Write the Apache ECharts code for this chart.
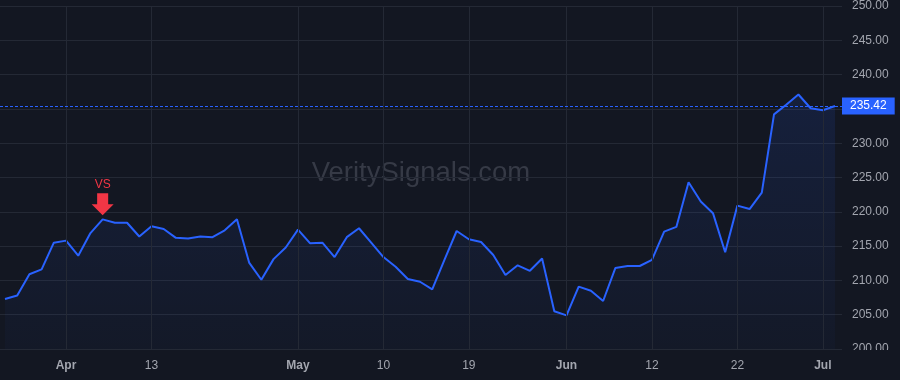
<!DOCTYPE html>
<html>
<head>
<meta charset="utf-8">
<script src="https://cdn.jsdelivr.net/npm/echarts@6/dist/echarts.min.js"></script>
<style>
  html, body { margin: 0; padding: 0; background: #131722; }
  #chart { width: 900px; height: 380px; }
</style>
</head>
<body>
<div id="chart"></div>
<script>
// closing prices, one per trading day (Mar -> Jul)
var prices = [
  207.3, 207.8, 210.9, 211.6, 215.5, 215.8, 213.6, 216.9, 218.9, 218.4,
  218.4, 216.4, 217.9, 217.5, 216.2, 216.1, 216.4, 216.3, 217.3, 218.9,
  212.6, 210.1, 213.1, 214.8, 217.4, 215.4, 215.5, 213.4, 216.3, 217.6,
  215.5, 213.4, 212.0, 210.2, 209.8, 208.7, 213.0, 217.2, 216.0, 215.6,
  213.7, 210.8, 212.2, 211.4, 213.2, 205.5, 204.9, 209.1, 208.5, 207.0,
  211.8, 212.1, 212.1, 213.0, 217.1, 217.8, 224.3, 221.5, 219.8, 214.1,
  220.9, 220.4, 222.8, 234.2, 235.6, 237.1, 235.1, 234.8, 235.42
];
// time-axis labels and the day index they sit on
var tickIdx = [5, 12, 24, 31, 38, 46, 53, 60, 67];
var tickLabels = ['Apr', '13', 'May', '10', '19', 'Jun', '12', '22', 'Jul'];
var monthLabels = ['Apr', 'May', 'Jun', 'Jul'];
// signal marker
var signalIdx = 8;
var signalText = 'VS';
var lastPrice = prices[prices.length - 1];

(function(){
    var bg = '#131722';
    var myChart = echarts.init(document.getElementById('chart'));
    var pts = prices.map(function(v, i){ return [i, v]; });
    var arrow = 'path://M5.4,0 L16.3,0 L16.3,10.6 L21.7,10.6 L10.85,21.6 L0,10.6 L5.4,10.6 Z';
    var option = {
        backgroundColor: bg,
        animation: false,
        textStyle: { fontFamily: 'Liberation Sans, Arial, sans-serif' },
        grid: { left: 0, right: 58, top: 5, bottom: 31 },
        graphic: [{
            type: 'text',
            x: 421,
            y: 173,
            z: 0,
            silent: true,
            style: {
                text: 'VeritySignals.com',
                fill: '#363a46',
                fontSize: 27.5,
                fontFamily: 'Liberation Sans, Arial, sans-serif',
                textAlign: 'center',
                textVerticalAlign: 'middle'
            }
        }, {
            // time axis strip hides the lower half of the bottom price label
            type: 'rect',
            z: 100,
            silent: true,
            shape: { x: 843, y: 350, width: 57, height: 30 },
            style: { fill: bg }
        }],
        xAxis: {
            type: 'value',
            min: -0.41,
            max: 68.57,
            axisLine: { show: false },
            axisTick: { show: false },
            splitLine: { show: false },
            axisLabel: {
                customValues: tickIdx,
                margin: 11,
                formatter: function(v){
                    var t = tickLabels[tickIdx.indexOf(v)];
                    return monthLabels.indexOf(t) >= 0 ? '{m|' + t + '}' : '{d|' + t + '}';
                },
                rich: {
                    m: { color: '#a3a6af', fontSize: 12, fontWeight: 'bold' },
                    d: { color: '#a3a6af', fontSize: 12 }
                }
            }
        },
        yAxis: {
            type: 'value',
            position: 'right',
            min: 200,
            max: 250,
            interval: 5,
            axisLine: { show: false },
            axisTick: { show: false },
            splitLine: { lineStyle: { color: '#242935', width: 1 } },
            axisLabel: {
                margin: 10,
                color: '#a3a6af',
                fontSize: 12,
                formatter: function(v){ return v.toFixed(2); }
            }
        },
        series: [{
            // vertical grid lines at the time labels
            type: 'line',
            data: [],
            z: 1,
            silent: true,
            markLine: {
                silent: true,
                symbol: 'none',
                label: { show: false },
                lineStyle: { color: '#242935', type: 'solid', width: 1 },
                data: tickIdx.map(function(i){ return { xAxis: i }; })
            }
        }, {
            type: 'line',
            data: pts,
            z: 2,
            showSymbol: false,
            lineStyle: { color: '#2962ff', width: 2 },
            areaStyle: {
                color: new echarts.graphic.LinearGradient(0, 0, 0, 1, [
                    { offset: 0, color: 'rgba(41, 98, 255, 0.17)' },
                    { offset: 1, color: 'rgba(41, 98, 255, 0.04)' }
                ])
            },
            markLine: {
                silent: true,
                symbol: 'none',
                lineStyle: { color: '#2962ff', type: [3, 2], width: 1 },
                label: {
                    show: true,
                    position: 'end',
                    distance: 0,
                    formatter: lastPrice.toFixed(2),
                    color: '#ffffff',
                    fontSize: 12,
                    backgroundColor: '#2962ff',
                    padding: [3, 8, 2, 8]
                },
                data: [{ yAxis: lastPrice }]
            },
            markPoint: {
                silent: true,
                symbol: arrow,
                symbolSize: [22, 22],
                symbolOffset: [0, -15],
                itemStyle: { color: '#f23645' },
                label: {
                    show: true,
                    position: 'top',
                    distance: 3,
                    color: '#f23645',
                    fontSize: 12,
                    formatter: signalText
                },
                data: [{ coord: [signalIdx, prices[signalIdx]] }]
            }
        }]
    };
    myChart.setOption(option);
    window.addEventListener('resize', function() {
        myChart.resize();
    })
})();
</script>
</body>
</html>
